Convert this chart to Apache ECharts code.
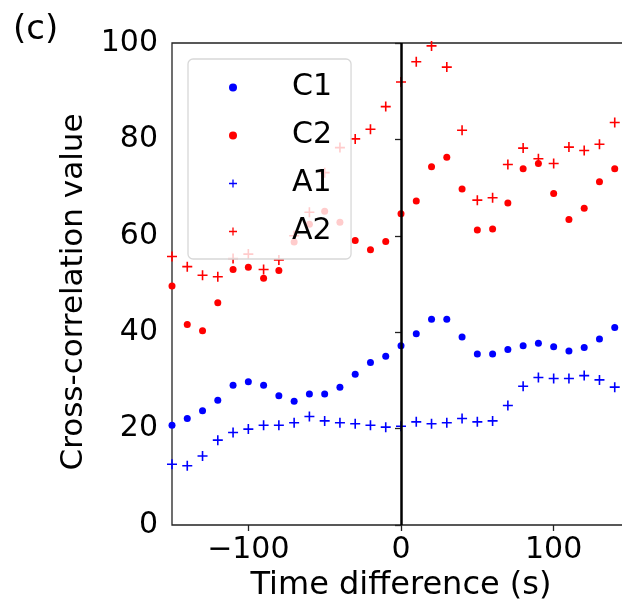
<!DOCTYPE html>
<html>
<head>
<meta charset="utf-8">
<script src="https://cdn.jsdelivr.net/npm/echarts@6/dist/echarts.min.js"></script>
<style>
html,body{margin:0;padding:0;background:#fff;overflow:hidden;}
#chart{width:622px;height:600px;}
</style>
</head>
<body>
<div id="chart"></div>
<script>
// ---- data ----
const timeDiff = [-150,-140,-130,-120,-110,-100,-90,-80,-70,-60,-50,-40,-30,-20,-10,0,10,20,30,40,50,60,70,80,90,100,110,120,130,140];
const C1 = [20.7,22.1,23.7,25.9,29.0,29.7,29.0,26.8,25.7,27.2,27.2,28.6,31.3,33.7,35.0,37.2,39.7,42.7,42.7,39.0,35.5,35.5,36.4,37.2,37.7,37.0,36.1,36.8,38.6,41.0];
const C2 = [49.6,41.6,40.3,46.1,53.0,53.5,51.2,52.8,58.7,62.4,65.1,62.8,59.0,57.1,58.8,64.6,67.2,74.3,76.3,69.7,61.2,61.4,66.8,73.9,75.0,68.8,63.4,65.7,71.2,73.9];
const A1 = [12.6,12.3,14.3,17.6,19.2,19.9,20.7,20.7,21.2,22.5,21.6,21.2,21.0,20.7,20.3,20.5,21.4,21.0,21.2,22.1,21.4,21.6,24.8,28.8,30.6,30.4,30.4,31.0,30.1,28.6];
const A2 = [55.7,53.6,51.8,51.5,55.3,56.2,53.0,55.0,60.0,64.9,73.1,78.3,80.1,82.1,86.8,91.9,96.1,99.4,95.0,81.9,67.4,67.9,74.8,78.2,76.0,75.0,78.4,77.7,79.0,83.5];
const xTicks = [-100, 0, 100];
const yTicks = [0, 20, 40, 60, 80, 100];
const seriesNames = ['C1', 'C2', 'A1', 'A2'];
const zeroLine = 0;

// ---- chart ----
const FONT = 'DejaVu Sans';
const PLUS = 'path://M4.2,0H5.8V4.2H10V5.8H5.8V10H4.2V5.8H0V4.2H4.2Z';
const pairs = arr => timeDiff.map((t, i) => [t, arr[i]]);

const chart = echarts.init(document.getElementById('chart'), null, {renderer: 'canvas'});
const mk = (name, data, color, symbol, size) => ({
  name, type: 'scatter', data: pairs(data), symbol, symbolSize: size,
  itemStyle: {color, opacity: 1}, emphasis: {disabled: true}, z: 3
});

const s = [
  mk(seriesNames[0], C1, '#0000ff', 'circle', 7),
  mk(seriesNames[1], C2, '#ff0000', 'circle', 7),
  mk(seriesNames[2], A1, '#0000ff', PLUS, 10),
  mk(seriesNames[3], A2, '#ff0000', PLUS, 10)
];
s[0].markLine = {
  silent: true, symbol: ['none', 'none'], animation: false,
  label: {show: false},
  lineStyle: {color: '#000', width: 2.5, type: 'solid'},
  data: [{xAxis: zeroLine}]
};

chart.setOption({
  animation: false,
  backgroundColor: '#fff',
  title: {
    text: '(c)', left: 8, top: 8,
    textStyle: {fontFamily: FONT, fontSize: 34, fontWeight: 'normal', color: '#000'}
  },
  grid: {
    left: 172, top: 43, right: -8, bottom: 75,
    outerBoundsMode: 'none', containLabel: false,
    show: true, borderColor: '#222', borderWidth: 1.3, backgroundColor: 'transparent'
  },
  legend: {
    orient: 'vertical', left: 188, top: 59,
    data: seriesNames,
    padding: [13, 19, 12, 41],
    itemGap: 17, itemWidth: 40, itemHeight: 8,
    backgroundColor: 'rgba(255,255,255,0.8)',
    borderColor: '#d8d8d8', borderWidth: 1.3, borderRadius: 5,
    selectedMode: false,
    textStyle: {fontFamily: FONT, fontSize: 30, color: '#000', lineHeight: 31, padding: [0, 0, 0, 34]},
    z: 10
  },
  xAxis: {
    type: 'value', min: -150, max: 150,
    name: 'Time difference (s)', nameLocation: 'middle', nameGap: 43,
    nameTextStyle: {fontFamily: FONT, fontSize: 32, color: '#000'},
    axisLine: {show: false},
    splitLine: {show: false},
    axisTick: {show: true, customValues: xTicks, length: 6, lineStyle: {color: '#222', width: 1.3}},
    axisLabel: {
      customValues: xTicks, margin: 10,
      fontFamily: FONT, fontSize: 30, color: '#000',
      formatter: v => String(v).replace('-', '\u2212')
    }
  },
  yAxis: {
    type: 'value', min: 0, max: 100, interval: 20,
    name: 'Cross-correlation value', nameLocation: 'middle', nameGap: 82,
    nameTextStyle: {fontFamily: FONT, fontSize: 31, color: '#000', padding: [0, 16, 0, 0]},
    axisLine: {show: false},
    splitLine: {show: false},
    axisTick: {show: true, length: 6, lineStyle: {color: '#222', width: 1.3}},
    axisLabel: {
      margin: 14, fontFamily: FONT, fontSize: 30, color: '#000',
      formatter: v => yTicks.includes(v) ? String(v) : ''
    }
  },
  series: s
});
</script>
</body>
</html>
